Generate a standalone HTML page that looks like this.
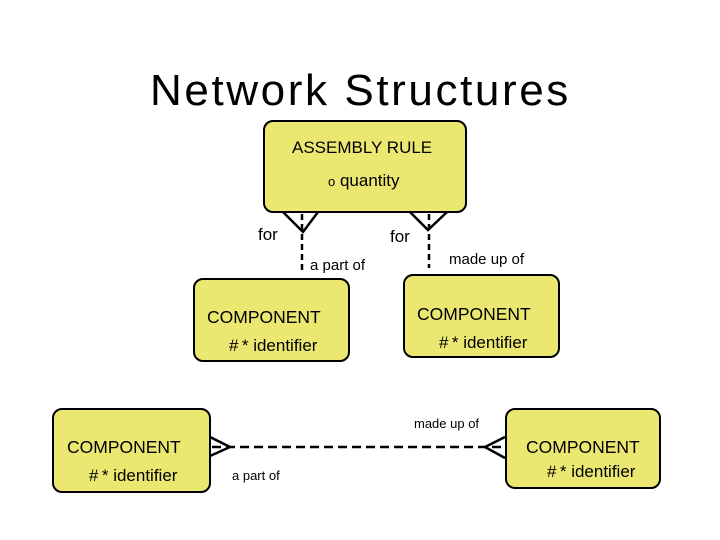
<!DOCTYPE html>
<html><head><style>
body{margin:0;width:720px;height:540px;background:#fff;overflow:hidden;position:relative;font-family:"Liberation Sans",sans-serif}
.t{position:absolute;white-space:nowrap;color:#000}
.b{position:absolute;background:#ebe872;border:2px solid #000;border-radius:10px;box-sizing:border-box}
</style></head><body>
<div class="t" style="left:150px;top:66px;font-size:44px;letter-spacing:2.6px">Network Structures</div>
<div class="b" style="left:263px;top:120px;width:204px;height:93px"></div>
<div class="b" style="left:193px;top:278px;width:157px;height:84px"></div>
<div class="b" style="left:403px;top:274px;width:157px;height:84px"></div>
<div class="b" style="left:52px;top:408px;width:159px;height:85px"></div>
<div class="b" style="left:505px;top:408px;width:156px;height:81px"></div>
<svg width="720" height="540" style="position:absolute;left:0;top:0">
<g stroke="#000" stroke-width="2.5" fill="none">
<path d="M283 212 L303 232 L318 212"/>
<path d="M410 212 L428 230 L447 212"/>
<path d="M302 214 V272" stroke-dasharray="6,4"/>
<path d="M429 214 V268" stroke-dasharray="6,4"/>
<path d="M210 437 L230 447 L210 456"/>
<path d="M505 437 L485 447 L505 458"/>
<path d="M212 447 H505" stroke-dasharray="9,5"/>
</g></svg>
<div class="t" style="left:292px;top:138px;font-size:17px">ASSEMBLY RULE</div>
<div class="t" style="left:328px;top:171px;font-size:17px"><span style="font-size:13px">o</span> quantity</div>
<div class="t" style="left:258px;top:225px;font-size:17px">for</div>
<div class="t" style="left:390px;top:227px;font-size:17px">for</div>
<div class="t" style="left:310px;top:257px;font-size:15px">a part of</div>
<div class="t" style="left:449px;top:251px;font-size:15px">made up of</div>
<div class="t" style="left:207px;top:307px;font-size:17.5px">COMPONENT</div>
<div class="t" style="left:229px;top:336px;font-size:17px">#&thinsp;* identifier</div>
<div class="t" style="left:417px;top:304px;font-size:17.5px">COMPONENT</div>
<div class="t" style="left:439px;top:333px;font-size:17px">#&thinsp;* identifier</div>
<div class="t" style="left:414px;top:416px;font-size:13px">made up of</div>
<div class="t" style="left:67px;top:437px;font-size:17.5px">COMPONENT</div>
<div class="t" style="left:89px;top:466px;font-size:17px">#&thinsp;* identifier</div>
<div class="t" style="left:232px;top:468px;font-size:13px">a part of</div>
<div class="t" style="left:526px;top:437px;font-size:17.5px">COMPONENT</div>
<div class="t" style="left:547px;top:462px;font-size:17px">#&thinsp;* identifier</div>
</body></html>
